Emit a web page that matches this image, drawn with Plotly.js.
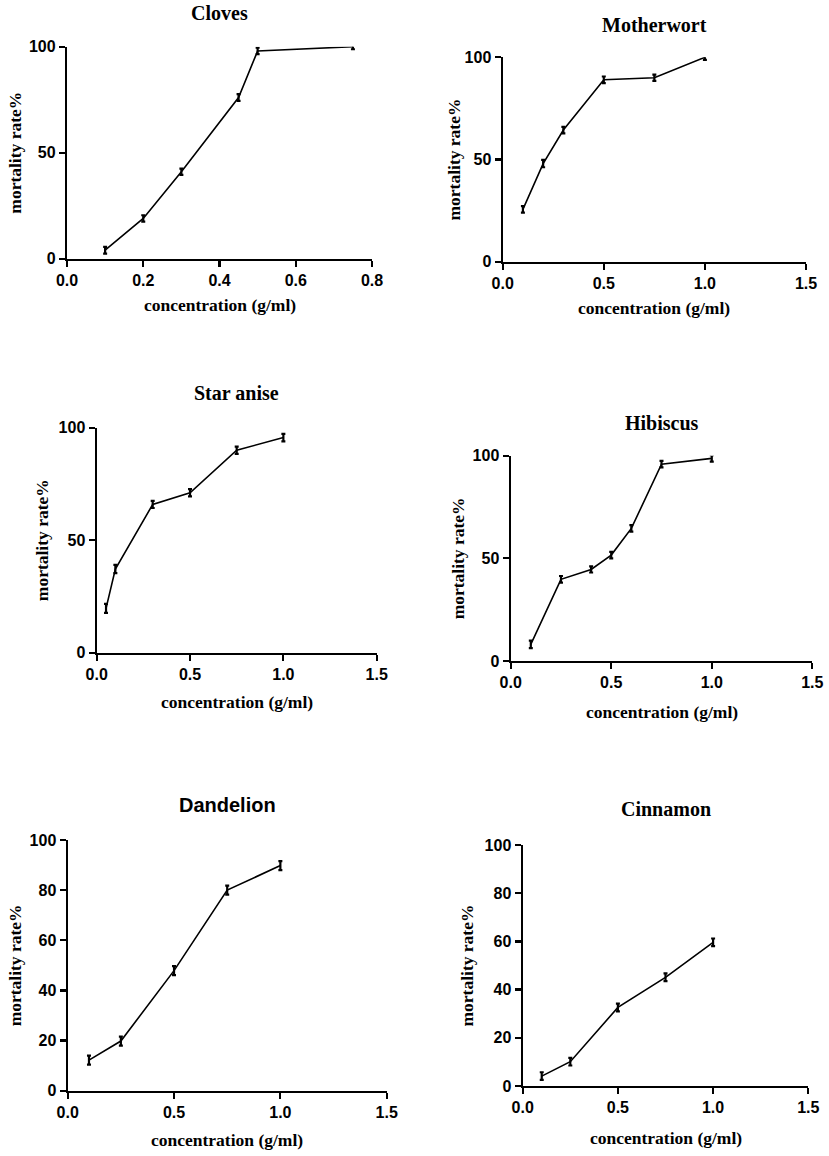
<!DOCTYPE html>
<html>
<head>
<meta charset="utf-8">
<script src="https://cdn.plot.ly/plotly-3.0.1.min.js"></script>
<style>html,body{margin:0;padding:0;background:#fff;}#chart{width:829px;height:1156px;}</style>
</head>
<body>
<div id="chart"></div>
<script>
// ---- data ----
const titles = ["Cloves", "Motherwort", "Star anise", "Hibiscus", "Dandelion", "Cinnamon"];

const clovesX = [0.1, 0.2, 0.3, 0.45, 0.5, 0.75];
const clovesY = [4, 19, 41, 76, 98, 100];
const clovesErr = [1.6, 1.5, 1.5, 1.6, 1.5, 1.2];

const motherwortX = [0.1, 0.2, 0.3, 0.5, 0.75, 1.0];
const motherwortY = [25.6, 48, 64.4, 89, 90, 100];
const motherwortErr = [1.6, 1.8, 1.6, 1.6, 1.5, 1.3];

const starAniseX = [0.05, 0.1, 0.3, 0.5, 0.75, 1.0];
const starAniseY = [19.7, 37.2, 65.9, 71.1, 90, 95.6];
const starAniseErr = [2.0, 1.8, 1.6, 1.6, 1.6, 1.7];

const hibiscusX = [0.1, 0.25, 0.4, 0.5, 0.6, 0.75, 1.0];
const hibiscusY = [8.1, 39.8, 44.6, 51.6, 64.6, 95.9, 98.7];
const hibiscusErr = [1.8, 1.6, 1.5, 1.6, 1.6, 1.6, 1.6];

const dandelionX = [0.1, 0.25, 0.5, 0.75, 1.0];
const dandelionY = [12.2, 19.8, 47.9, 80, 89.8];
const dandelionErr = [1.8, 1.8, 1.8, 1.8, 1.8];

const cinnamonX = [0.1, 0.25, 0.5, 0.75, 1.0];
const cinnamonY = [4.1, 10.1, 32.6, 45.1, 59.6];
const cinnamonErr = [1.6, 1.6, 1.6, 1.6, 1.6];

const xTicks = [[0, 0.2, 0.4, 0.6, 0.8], [0, 0.5, 1.0, 1.5]];
const yTicks = [[0, 50, 100], [0, 20, 40, 60, 80, 100]];

const xTitle = "concentration (g/ml)";
const yTitle = "mortality rate%";

// ---- layout geometry (pixels) ----
const W = 829, H = 1156;
const boxes = [
  {x0: 67,    x1: 372,   yTop: 46.7,  yBot: 258.7, xmax: 0.8, xt: 0, yt: 0, titleY: 13,  xtY: 305,  ytX: 15,  serif: true},
  {x0: 502.7, x1: 806,   yTop: 57.3,  yBot: 261.7, xmax: 1.5, xt: 1, yt: 0, titleY: 25,  xtY: 308,  ytX: 453, serif: true},
  {x0: 96.7,  x1: 376.7, yTop: 427.7, yBot: 652.7, xmax: 1.5, xt: 1, yt: 0, titleY: 393, xtY: 702,  ytX: 42,  serif: true},
  {x0: 510.7, x1: 812.3, yTop: 455.7, yBot: 661,   xmax: 1.5, xt: 1, yt: 0, titleY: 423, xtY: 712,  ytX: 458, serif: true},
  {x0: 67.7,  x1: 386.7, yTop: 840,   yBot: 1090.7,xmax: 1.5, xt: 1, yt: 1, titleY: 805, xtY: 1140, ytX: 15,  serif: false},
  {x0: 522.7, x1: 808.3, yTop: 845,   yBot: 1086,  xmax: 1.5, xt: 1, yt: 1, titleY: 809, xtY: 1138, ytX: 467, serif: true}
];

const series = [
  [clovesX, clovesY, clovesErr],
  [motherwortX, motherwortY, motherwortErr],
  [starAniseX, starAniseY, starAniseErr],
  [hibiscusX, hibiscusY, hibiscusErr],
  [dandelionX, dandelionY, dandelionErr],
  [cinnamonX, cinnamonY, cinnamonErr]
];

const SERIF = "Liberation Serif, Times New Roman, serif";
const SANS = "Liberation Sans, Arial, sans-serif";

const traces = [];
const layout = {
  width: W, height: H,
  margin: {l: 0, r: 0, t: 0, b: 0},
  paper_bgcolor: "#fff", plot_bgcolor: "#fff",
  showlegend: false,
  annotations: []
};

boxes.forEach((b, i) => {
  const n = i === 0 ? "" : String(i + 1);
  const [xs, ys, es] = series[i];
  traces.push({
    type: "scatter", mode: "lines",
    x: xs, y: ys,
    xaxis: "x" + n, yaxis: "y" + n,
    line: {color: "#000", width: 1.6},
    error_y: {type: "data", array: es, visible: true, color: "#000", thickness: 2.2, width: 2},
    cliponaxis: false,
    hoverinfo: "skip"
  });
  const common = {
    showline: true, linecolor: "#000", linewidth: 2.2,
    ticks: "outside", ticklen: 6, tickwidth: 2.2, tickcolor: "#000",
    showgrid: false, zeroline: false, fixedrange: true,
    tickfont: {family: SANS, size: 16, color: "#000", weight: "bold"}
  };
  layout["xaxis" + n] = Object.assign({}, common, {
    domain: [b.x0 / W, b.x1 / W],
    anchor: "y" + n,
    range: [0, b.xmax],
    tickmode: "array", tickvals: xTicks[b.xt],
    ticktext: xTicks[b.xt].map(v => v.toFixed(1))
  });
  layout["yaxis" + n] = Object.assign({}, common, {
    domain: [1 - b.yBot / H, 1 - b.yTop / H],
    anchor: "x" + n,
    range: [0, 100],
    tickmode: "array", tickvals: yTicks[b.yt],
    ticktext: yTicks[b.yt].map(String)
  });
  const cx = (b.x0 + b.x1) / 2 / W;
  layout.annotations.push({
    text: titles[i], xref: "paper", yref: "paper",
    x: cx, y: 1 - b.titleY / H, xanchor: "center", yanchor: "middle",
    showarrow: false,
    font: {family: b.serif ? SERIF : SANS, size: 20, color: "#000", weight: "bold"}
  });
  layout.annotations.push({
    text: xTitle, xref: "paper", yref: "paper",
    x: cx, y: 1 - b.xtY / H, xanchor: "center", yanchor: "middle",
    showarrow: false,
    font: {family: SERIF, size: 17.5, color: "#000", weight: "bold"}
  });
  layout.annotations.push({
    text: yTitle, xref: "paper", yref: "paper",
    x: b.ytX / W, y: 1 - (b.yTop + b.yBot) / 2 / H, xanchor: "center", yanchor: "middle",
    textangle: -90, showarrow: false,
    font: {family: SERIF, size: 17.5, color: "#000", weight: "bold"}
  });
});

Plotly.newPlot("chart", traces, layout, {staticPlot: true, displayModeBar: false});
</script>
</body>
</html>
